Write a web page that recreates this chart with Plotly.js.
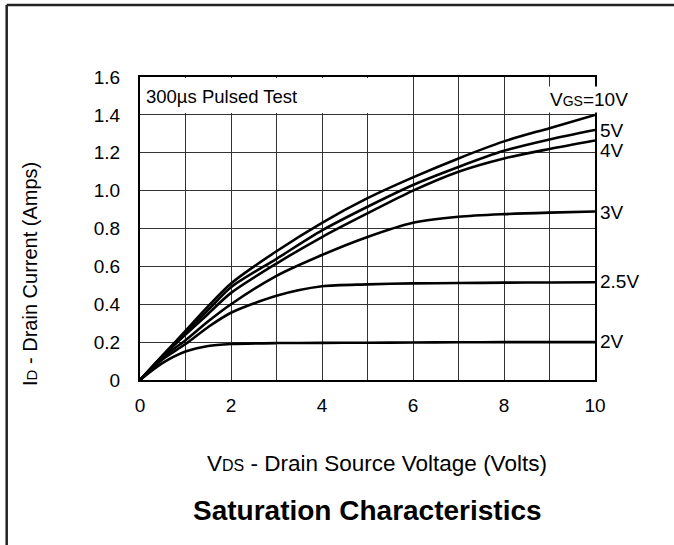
<!DOCTYPE html>
<html>
<head>
<meta charset="utf-8">
<script src="https://cdn.plot.ly/plotly-3.0.1.min.js"></script>
<style>html,body{margin:0;padding:0;background:#fff;}#chart{width:674px;height:545px;}</style>
</head>
<body>
<div id="chart"></div>
<script>
// V_DS (Volts)
const vds = [0, 0.5, 1, 1.5, 2, 3, 4, 5, 6, 7, 8, 9, 10];
// I_D (Amps) for each V_GS curve
const id10 = [0, 0.13, 0.26, 0.39, 0.51, 0.68, 0.83, 0.96, 1.07, 1.17, 1.26, 1.33, 1.40];
const id5  = [0, 0.13, 0.25, 0.37, 0.49, 0.64, 0.79, 0.915, 1.03, 1.125, 1.21, 1.27, 1.32];
const id4  = [0, 0.125, 0.24, 0.35, 0.46, 0.615, 0.755, 0.88, 1.0, 1.10, 1.17, 1.22, 1.265];
const id3  = [0, 0.12, 0.21, 0.31, 0.40, 0.55, 0.66, 0.755, 0.83, 0.862, 0.876, 0.884, 0.89];
const id25 = [0, 0.11, 0.19, 0.28, 0.355, 0.445, 0.495, 0.505, 0.51, 0.512, 0.514, 0.515, 0.516];
const id2  = [0, 0.09, 0.15, 0.18, 0.19, 0.195, 0.196, 0.197, 0.198, 0.199, 0.2, 0.2, 0.2];
const curveNames = ['10V', '5V', '4V', '3V', '2.5V', '2V'];
const curveData = [id10, id5, id4, id3, id25, id2];
const labelY = [null, 1.318, 1.21, 0.885, 0.52, 0.205];

const xTickVals = [0, 1, 2, 3, 4, 5, 6, 7, 8, 9, 10];
const xTickText = ['0', '', '2', '', '4', '', '6', '', '8', '', '10'];
const yTickVals = [0, 0.2, 0.4, 0.6, 0.8, 1.0, 1.2, 1.4, 1.6];
const yTickText = ['0', '0.2', '0.4', '0.6', '0.8', '1.0', '1.2', '1.4', '1.6'];

const FONT = 'Liberation Sans, Arial, sans-serif';

const traces = curveData.map((ys, i) => ({
  x: vds, y: ys, type: 'scatter', mode: 'lines', name: curveNames[i],
  line: {color: '#000', width: 2.6, shape: 'spline', smoothing: 0.8},
  hoverinfo: 'skip', showlegend: false
}));

const annotations = [];
curveNames.forEach((n, i) => {
  if (i === 0) return;
  annotations.push({
    x: 10, y: labelY[i], xref: 'x', yref: 'y', text: n, showarrow: false,
    xanchor: 'left', yanchor: 'middle', xshift: 3,
    font: {family: FONT, size: 19, color: '#000'}
  });
});
annotations.push({
  x: 10, y: 1.48, xref: 'x', yref: 'y',
  text: 'V<span style="font-size:14px">GS</span>=10V', showarrow: false,
  xanchor: 'center', yanchor: 'middle', xshift: -6, bgcolor: '#fff', borderpad: 2,
  font: {family: FONT, size: 19, color: '#000'}
});
annotations.push({
  x: 0, y: 1.6, xref: 'x', yref: 'y', text: '300µs Pulsed Test', showarrow: false,
  xanchor: 'left', yanchor: 'top', xshift: 4, yshift: -7,
  font: {family: FONT, size: 18.5, color: '#000'}
});
annotations.push({
  x: 0, y: 0.35, xref: 'paper', yref: 'paper', xshift: -110,
  text: 'I<span style="font-size:15px">D</span> - Drain Current (Amps)', showarrow: false,
  textangle: -90, xanchor: 'center', yanchor: 'middle',
  font: {family: FONT, size: 20, color: '#000'}
});
annotations.push({
  x: 0.52, y: 0, xref: 'paper', yref: 'paper', yshift: -83,
  text: 'V<span style="font-size:16px">DS</span> - Drain Source Voltage (Volts)', showarrow: false,
  xanchor: 'center', yanchor: 'middle',
  font: {family: FONT, size: 22.5, color: '#000'}
});
annotations.push({
  x: 0.5, y: 0, xref: 'paper', yref: 'paper', yshift: -130,
  text: '<b>Saturation Characteristics</b>', showarrow: false,
  xanchor: 'center', yanchor: 'middle',
  font: {family: FONT, size: 28, color: '#000'}
});

const shapes = [
  {type: 'rect', xref: 'x', yref: 'y', x0: 0.03, x1: 5.96, y0: 1.41, y1: 1.595,
   fillcolor: '#fff', line: {width: 0}, layer: 'between'},
  {type: 'line', xref: 'paper', yref: 'paper', x0: -0.293, x1: 1.2, y0: 1.2375, y1: 1.2375,
   line: {color: '#222', width: 2.5}},
  {type: 'line', xref: 'paper', yref: 'paper', x0: -0.293, x1: -0.293, y0: 1.2375, y1: -0.56,
   line: {color: '#222', width: 2.5}}
];

const layout = {
  width: 674, height: 545,
  margin: {l: 140, r: 79, t: 77, b: 165},
  paper_bgcolor: '#fff', plot_bgcolor: '#fff',
  showlegend: false,
  font: {family: FONT, color: '#000'},
  xaxis: {
    range: [0, 10], tickvals: xTickVals, ticktext: xTickText,
    showgrid: true, gridcolor: '#333', gridwidth: 1,
    showline: true, linecolor: '#000', linewidth: 2, mirror: true,
    ticks: '', zeroline: false, ticklabelstandoff: 7,
    tickfont: {family: FONT, size: 19, color: '#000'}
  },
  yaxis: {
    range: [0, 1.6], tickvals: yTickVals, ticktext: yTickText,
    showgrid: true, gridcolor: '#333', gridwidth: 1,
    showline: true, linecolor: '#000', linewidth: 2, mirror: true,
    ticks: '', zeroline: false, ticklabelstandoff: 14,
    tickfont: {family: FONT, size: 19, color: '#000'}
  },
  annotations: annotations,
  shapes: shapes
};

Plotly.newPlot('chart', traces, layout, {displayModeBar: false, staticPlot: true});
</script>
</body>
</html>
